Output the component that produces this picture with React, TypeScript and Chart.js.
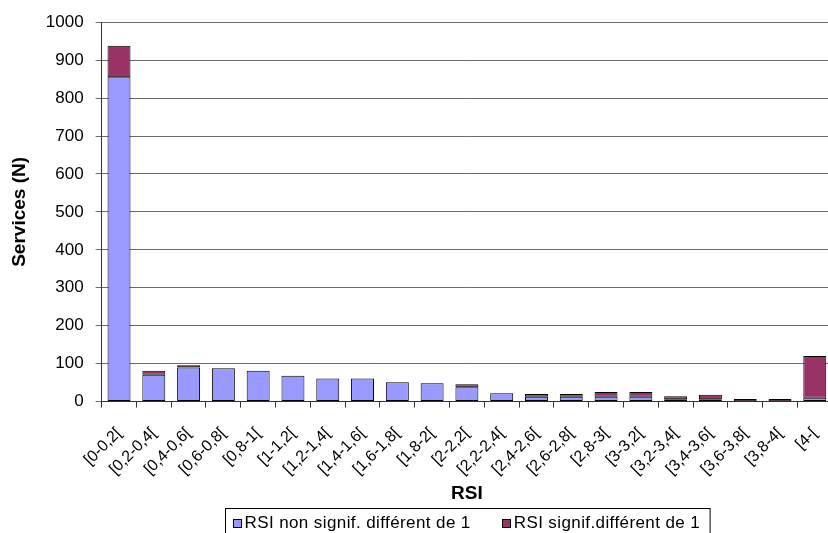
import React, { useEffect, useRef } from 'react';
import { Chart, registerables } from 'chart.js';

Chart.register(...registerables);

const categories = [
  '[0-0,2[', '[0,2-0,4[', '[0,4-0,6[', '[0,6-0,8[', '[0,8-1[', '[1-1,2[', '[1,2-1,4[',
  '[1,4-1,6[', '[1,6-1,8[', '[1,8-2[', '[2-2,2[', '[2,2-2,4[', '[2,4-2,6[', '[2,6-2,8[',
  '[2,8-3[', '[3-3,2[', '[3,2-3,4[', '[3,4-3,6[', '[3,6-3,8[', '[3,8-4[', '[4-[',
];
const nonSignif = [855, 71, 90, 88, 81, 68, 61, 61, 51, 48, 38, 22, 13, 13, 13, 13, 6, 6, 1, 1, 10];
const signif = [83, 10, 6, 0, 0, 0, 0, 0, 0, 0, 8, 0, 7, 7, 12, 12, 8, 12, 6, 6, 110];
const seriesLabels = ['RSI non signif. différent de 1', 'RSI signif.différent de 1'];
const seriesColors = ['#9999FF', '#993366'];
const yMin = 0;
const yMax = 1000;
const yStep = 100;
const xTitle = 'RSI';
const yTitle = 'Services (N)';

const FONT = '"Liberation Sans", Arial, Helvetica, sans-serif';
const W = 838;
const H = 545;

const legendBoxPlugin = {
  id: 'legendBox',
  afterDraw(chart: any) {
    const ctx = chart.ctx as CanvasRenderingContext2D;
    const area = chart.chartArea;
    const top = Math.round(chart.scales.x.bottom) + 0.5;
    ctx.save();
    ctx.font = `17px ${FONT}`;
    (ctx as any).letterSpacing = '0.4px';
    const items = chart.data.datasets.map((ds: any) => ({
      label: ds.label as string,
      color: ds.backgroundColor as string,
      w: ctx.measureText(ds.label).width,
    }));
    const padL = 7, sq = 9, gap = 3, itemGap = 31, padR = 10, h = 32;
    const total =
      padL + padR + items.reduce((s: number, it: any) => s + sq + gap + it.w, 0) + itemGap * (items.length - 1);
    const cx = (area.left + area.right) / 2;
    const left = Math.round(cx - total / 2) + 0.5;
    ctx.fillStyle = '#ffffff';
    ctx.fillRect(left, top, total, h);
    ctx.strokeStyle = '#000000';
    ctx.lineWidth = 1;
    ctx.strokeRect(left, top, total, h);
    let x = left + padL;
    const cy = top + 15;
    ctx.textBaseline = 'middle';
    ctx.textAlign = 'left';
    items.forEach((it: any) => {
      ctx.fillStyle = it.color;
      ctx.fillRect(Math.round(x), Math.round(cy - sq / 2), sq, sq);
      ctx.strokeStyle = '#000000';
      ctx.strokeRect(Math.round(x) + 0.5, Math.round(cy - sq / 2) + 0.5, sq - 1, sq - 1);
      x += sq + gap;
      ctx.fillStyle = '#000000';
      ctx.fillText(it.label, x, cy);
      x += it.w + itemGap;
    });
    ctx.restore();
  },
};

export default function App() {
  const ref = useRef<HTMLCanvasElement | null>(null);

  useEffect(() => {
    if (!ref.current) return;
    const chart = new Chart(ref.current, {
      type: 'bar',
      data: {
        labels: categories,
        datasets: [
          {
            label: seriesLabels[0],
            data: nonSignif,
            backgroundColor: seriesColors[0],
            borderColor: '#000000',
            borderWidth: 1,
            borderSkipped: false,
            barPercentage: 0.66,
            categoryPercentage: 1,
          },
          {
            label: seriesLabels[1],
            data: signif,
            backgroundColor: seriesColors[1],
            borderColor: '#000000',
            borderWidth: 1,
            borderSkipped: false,
            barPercentage: 0.66,
            categoryPercentage: 1,
          },
        ],
      },
      options: {
        responsive: false,
        animation: false,
        devicePixelRatio: 1,
        layout: { padding: { left: 8, right: 4, top: 21, bottom: 37 } },
        plugins: {
          legend: { display: false },
          tooltip: { enabled: false },
        },
        scales: {
          x: {
            stacked: true,
            grid: {
              display: true,
              drawOnChartArea: false,
              drawTicks: true,
              tickLength: 6,
              color: '#333333',
            },
            border: { display: true, color: '#333333', width: 1 },
            ticks: {
              autoSkip: false,
              minRotation: 45,
              maxRotation: 45,
              padding: 23,
              color: '#000000',
              font: { family: FONT, size: 16, lineHeight: 0.01 },
            },
            title: {
              display: true,
              text: xTitle,
              color: '#000000',
              font: { family: FONT, size: 19, weight: 'bold', lineHeight: 1.2 },
              padding: { top: -13, bottom: 3 },
            },
          },
          y: {
            stacked: true,
            min: yMin,
            max: yMax,
            ticks: {
              stepSize: yStep,
              padding: 12,
              color: '#000000',
              font: { family: FONT, size: 17, lineHeight: 1.2 },
              callback: (v: any) => String(v),
            },
            grid: {
              color: '#6b6b6b',
              drawTicks: true,
              tickLength: 6,
            },
            border: { display: true, color: '#333333', width: 1 },
            title: {
              display: true,
              text: yTitle,
              color: '#000000',
              font: { family: FONT, size: 19, weight: 'bold', lineHeight: 1.2 },
              padding: { top: 0, bottom: 3 },
            },
          },
        },
      },
      plugins: [legendBoxPlugin],
    });
    return () => chart.destroy();
  }, []);

  return (
    <div
      style={{
        position: 'fixed',
        left: 0,
        top: 0,
        width: 828,
        height: 533,
        overflow: 'hidden',
        background: '#ffffff',
      }}
    >
      <canvas ref={ref} width={W} height={H} style={{ width: W, height: H, display: 'block' }} />
    </div>
  );
}
